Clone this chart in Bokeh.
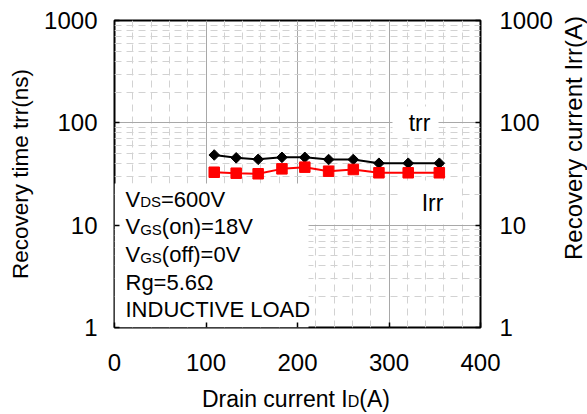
import numpy as np
from bokeh.plotting import figure
from bokeh.layouts import row, column
from bokeh.models import LogAxis, Label, BoxAnnotation, FixedTicker
from bokeh.embed import file_html
from bokeh.resources import INLINE

# ---- data ----
drain_current = [109, 133, 157, 183, 208, 234, 261, 289, 321, 355]
trr_ns = [48.5, 45.5, 44.0, 46.0, 46.0, 43.8, 43.8, 40.3, 40.3, 40.3]
irr_a = [32.9, 32.2, 31.8, 35.5, 36.9, 33.7, 35.0, 32.5, 32.5, 32.5]
x_ticks = [0, 100, 200, 300, 400]
x_minor = [v for v in range(20, 400, 20) if v % 100 != 0]
y_ticks = [1, 10, 100, 1000]
y_minor = [k * 10 ** d for d in range(3) for k in range(2, 10)]
y_tick_labels = {1: "1", 10: "10", 100: "100", 1000: "1000"}
cond_lines = [
    [("V", "big"), ("DS", "sub"), ("=600V", "big")],
    [("V", "big"), ("GS", "sub"), ("(on)=18V", "big")],
    [("V", "big"), ("GS", "sub"), ("(off)=0V", "big")],
    [("Rg=5.6\u03a9", "big")],
    [("INDUCTIVE LOAD", "big")],
]
x_title = [("Drain current I", "title"), ("D", "tsub"), ("(A)", "title")]
left_title = "Recovery time trr(ns)"
right_title = "Recovery current Irr(A)"

FONT = "Liberation Sans"
SIZES = {"big": 22, "sub": 15, "title": 23, "tsub": 16}
ARIAL = {' ': 278, '(': 333, ')': 333, '=': 584, '.': 278, 'A': 667, 'C': 722, 'D': 722,
         'E': 667, 'G': 778, 'I': 278, 'L': 556, 'N': 722, 'O': 778, 'R': 722, 'S': 667,
         'T': 611, 'U': 722, 'V': 667, 'a': 556, 'c': 500, 'e': 556, 'f': 278, 'g': 556,
         'i': 222, 'n': 556, 'o': 556, 'r': 333, 't': 278, 'u': 556, '\u03a9': 768}

BORDER_L, BORDER_R = 114, 77
MID = 0.3465  # em-box middle above the baseline (Liberation Sans)


def text_width(s, size):
    return sum(ARIAL.get(ch, 556) for ch in s) / 1000.0 * size


def add_runs(fig, parts, x0, baseline):
    x = x0
    for txt, kind in parts:
        size = SIZES[kind]
        fig.add_layout(Label(x=x, y=baseline + MID * size, x_units="screen",
                             y_units="screen", text=txt,
                             text_font=FONT, text_font_size=f"{size}px",
                             text_color="black", text_align="left",
                             text_baseline="alphabetic"))
        x += text_width(txt, size)


def blank_fig(w, h, bl=0, br=0):
    f = figure(width=w, height=h, output_backend="svg", toolbar_location=None,
               x_axis_location=None, y_axis_location=None,
               min_border=0, min_border_left=bl, min_border_right=br,
               min_border_top=0, min_border_bottom=0)
    f.grid.visible = False
    f.outline_line_color = None
    f.background_fill_color = "white"
    f.border_fill_color = "white"
    return f


# ---- main plot ----
p = figure(width=557, height=380, x_range=(0, 400), y_range=(1, 1000),
           y_axis_type="log", output_backend="svg", toolbar_location=None,
           min_border_left=BORDER_L, min_border_right=BORDER_R, min_border_top=20,
           min_border_bottom=53)
p.background_fill_color = "white"
p.border_fill_color = "white"
p.outline_line_color = "black"
p.outline_line_width = 2

xt = FixedTicker(ticks=x_ticks, minor_ticks=x_minor)
yt = FixedTicker(ticks=y_ticks, minor_ticks=y_minor)
xa = p.below[0]
la = p.left[0]
xa.ticker = xt
la.ticker = yt
p.xgrid.ticker = xt
p.ygrid.ticker = yt

for g in (p.xgrid, p.ygrid):
    g.grid_line_color = "#a8a8a8"
    g.grid_line_width = 1
    g.minor_grid_line_color = "#d2d2d2"
    g.minor_grid_line_width = 1
    g.minor_grid_line_dash = "7 5"

ra = LogAxis(ticker=yt)
p.add_layout(ra, "right")

for ax in (xa, la, ra):
    ax.axis_line_color = None
    ax.major_tick_in = 5
    ax.major_tick_out = 0
    ax.minor_tick_in = 0
    ax.minor_tick_out = 0
    ax.major_tick_line_color = "black"
    ax.major_tick_line_width = 1.5
    ax.major_label_text_font = FONT
    ax.major_label_text_font_size = "24px"
    ax.major_label_text_color = "black"
xa.major_label_standoff = 26
la.major_label_standoff = 17
ra.major_label_standoff = 19
la.major_label_overrides = y_tick_labels
ra.major_label_overrides = y_tick_labels

la.axis_label = left_title
la.axis_label_text_font = FONT
la.axis_label_text_font_size = "22.5px"
la.axis_label_text_font_style = "normal"
la.axis_label_text_color = "black"
la.axis_label_standoff = 8

# white boxes behind the in-plot texts (screen units, frame-relative)
for l, r, b, t in [(0, 194, 0, 144), (278, 324, 190, 221), (286, 346, 105, 147)]:
    p.add_layout(BoxAnnotation(left=l, right=r, bottom=b, top=t,
                               left_units="screen", right_units="screen",
                               bottom_units="screen", top_units="screen",
                               fill_color="white", fill_alpha=1.0,
                               line_color=None, level="underlay"))

# data series
p.line(drain_current, trr_ns, line_color="black", line_width=2)
p.scatter(drain_current, trr_ns, marker="square", angle=np.pi / 4, size=7.5,
          fill_color="black", line_color="black")
p.line(drain_current, irr_a, line_color="#ff0000", line_width=2)
p.scatter(drain_current, irr_a, marker="square", size=10.5,
          fill_color="#ff0000", line_color="#ff0000")

for i, parts in enumerate(cond_lines):
    add_runs(p, parts, 11, 120.5 - i * 27.6)

for txt, cx, base in [("trr", 305, 197), ("Irr", 318, 117)]:
    p.add_layout(Label(x=cx, y=base + MID * 23, x_units="screen", y_units="screen",
                       text=txt, text_font=FONT, text_font_size="23px",
                       text_color="black", text_align="center",
                       text_baseline="alphabetic"))

# ---- x-axis title strip (frame aligned with the main plot's frame) ----
xfig = blank_fig(557, 34, BORDER_L, BORDER_R)
add_runs(xfig, x_title, 201.5 - BORDER_L, 7.5)

# ---- right-axis title strip ----
rfig = blank_fig(30, 414)
rfig.add_layout(Label(x=24 - MID * 24, y=276.5, x_units="screen", y_units="screen",
                      text=right_title, angle=np.pi / 2, text_font=FONT,
                      text_font_size="24px", text_color="black", text_align="center",
                      text_baseline="alphabetic"))

layout = row(column(p, xfig, spacing=0), rfig, spacing=0)

open("out.html", "w").write(file_html(layout, INLINE))
